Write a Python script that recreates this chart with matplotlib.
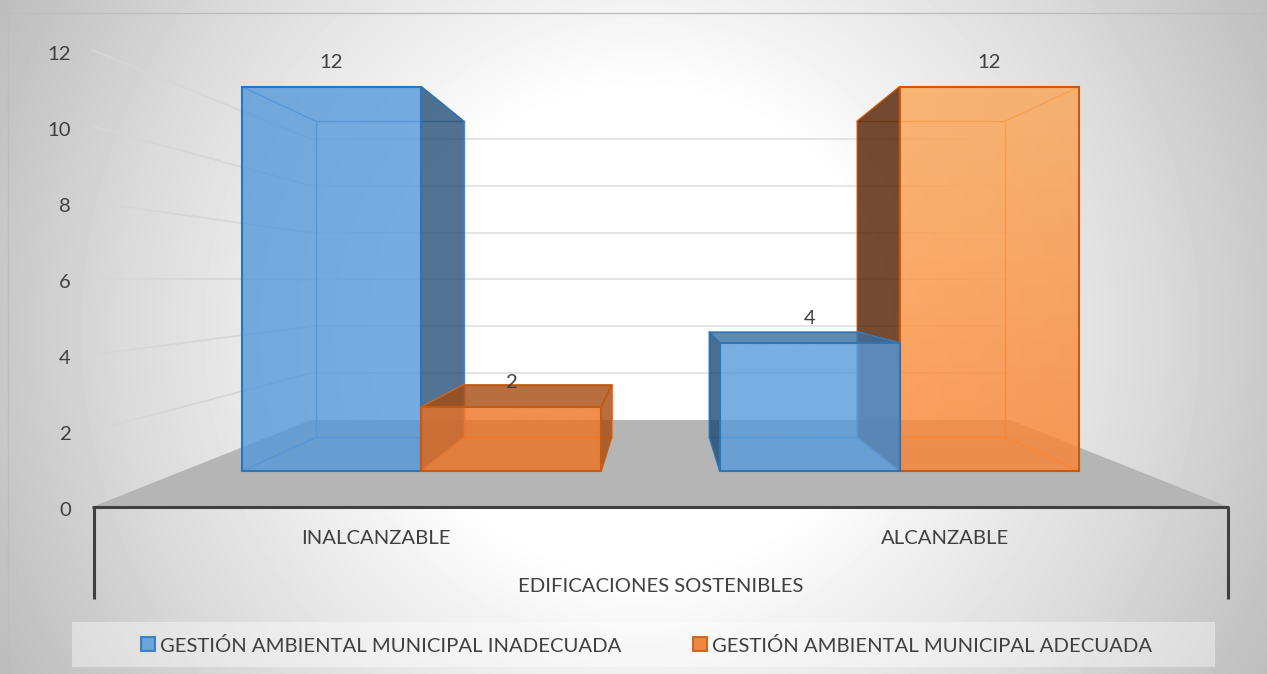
# Grafico de barras 3D (perspectiva) dibujado a mano sobre ejes 2D en pixeles
import numpy as np
import matplotlib
matplotlib.use("Agg")
import matplotlib.pyplot as plt
from matplotlib.patches import Polygon, Rectangle

plt.rcParams['font.family'] = ['Lato', 'DejaVu Sans']

# datos
categories = ["INALCANZABLE", "ALCANZABLE"]
inadecuada = [12, 4]
adecuada = [2, 12]
series_names = ["GESTIÓN AMBIENTAL MUNICIPAL INADECUADA", "GESTIÓN AMBIENTAL MUNICIPAL ADECUADA"]
y_ticks = [0, 2, 4, 6, 8, 10, 12]
axis_title = "EDIFICACIONES SOSTENIBLES"

TEXT = '#404040'
FS = 14.6
W, H = 1267, 674

# geometria de la proyeccion (plano frontal en pixeles)
X0, X1 = 92.0, 1229.0      # eje de categorias
Y0, Y12 = 507.0, 50.0      # valor 0 y valor 12 en el plano frontal
VX, VY = 660.5, 281.0      # punto de fuga
K = 0.626                  # profundidad: escala = 1 / (1 + K z)
Z_FRONT, Z_BACK = 0.302, 0.711   # cara frontal y trasera de las barras
GAP = 0.124                # hueco a cada lado, en unidades de categoria
BAR_W = (1 - 2 * GAP) / 2


def project(u, v, z):
    # u: posicion en categorias, v: valor, z: profundidad (0 frente, 1 pared)
    s = 1 / (1 + K * z)
    x = X0 + u * (X1 - X0) / len(categories)
    y = Y0 + v * (Y12 - Y0) / max(y_ticks)
    return VX + (x - VX) * s, VY + (y - VY) * s


fig = plt.figure(figsize=(W / 100, H / 100), dpi=100)
ax = fig.add_axes([0, 0, 1, 1])
ax.set_axis_off()

# fondo con degradado radial
yy, xx = np.mgrid[0:H, 0:W]
dist = np.hypot(xx - 640, yy - 330)
grey = np.interp(dist, [0, 240, 320, 420, 520, 640, 720], [255, 255, 243, 230, 218, 200, 189]) / 255
ax.imshow(grey, cmap='gray', vmin=0, vmax=1, extent=(0, W, H, 0), aspect='auto', zorder=0,
          clip_path=Rectangle((8, 13), W, H, transform=ax.transData))
ax.plot([8, 8, W], [H, 13, 13], color='#bdbdbd', lw=1, zorder=1)

# suelo
floor = [project(0, 0, 0), project(2, 0, 0), project(2, 0, 1), project(0, 0, 1)]
ax.add_patch(Polygon(floor, closed=True, fc='#b5b5b5', ec='none', zorder=1))

# lineas de division: pared izquierda y pared del fondo
for v in y_ticks[1:]:
    xa, ya = project(0, v, 0)
    xb, yb = project(0, v, 1)
    xc, yc = project(2, v, 1)
    ax.plot([xa, xb], [ya, yb], color='#d6d6d6', lw=1.3, zorder=1)
    ax.plot([xb, xc], [yb, yc], color='#e2e2e2', lw=1.3, zorder=1)

# estilos de cada serie
styles = [
    dict(top='#5598d9', bottom='#5598d9', low='#569adb', edge='#2e75b6', inner='#5596d6', roof='#366ea0'),
    dict(top='#fca655', bottom='#fa8333', low='#ee7222', edge='#c55a11', inner='#f98f42', roof='#a74a0f'),
]
side_colors = {(0, 0): '#264f78', (0, 1): '#1d4a72', (1, 0): '#a74a0f', (1, 1): '#511f00'}


def rgb(c):
    return np.array(matplotlib.colors.to_rgb(c))


def draw_bar(cat, ser, value):
    st = styles[ser]
    u0 = cat + GAP + ser * BAR_W
    u1 = u0 + BAR_W
    zo = 3 + cat * 0.1

    def face(pts):
        return [project(*p) for p in pts]

    # aristas interiores
    for a, b in [((u0, 0, Z_BACK), (u1, 0, Z_BACK)), ((u0, value, Z_BACK), (u1, value, Z_BACK)),
                 ((u0, 0, Z_BACK), (u0, value, Z_BACK)), ((u1, 0, Z_BACK), (u1, value, Z_BACK)),
                 ((u0, 0, Z_FRONT), (u0, 0, Z_BACK)), ((u1, 0, Z_FRONT), (u1, 0, Z_BACK)),
                 ((u0, value, Z_FRONT), (u0, value, Z_BACK)), ((u1, value, Z_FRONT), (u1, value, Z_BACK))]:
        pa, pb = project(*a), project(*b)
        ax.plot([pa[0], pb[0]], [pa[1], pb[1]], color=st['inner'], lw=1, zorder=zo)

    # lado visible desde fuera (mira hacia el centro del grafico)
    us = u1 if cat == 0 else u0
    side = face([(us, 0, Z_FRONT), (us, value, Z_FRONT), (us, value, Z_BACK), (us, 0, Z_BACK)])
    ax.add_patch(Polygon(side, closed=True, fc=side_colors[(ser, cat)], ec=st['edge'], lw=1,
                         alpha=0.8, zorder=zo))

    # techo visto desde arriba si esta por debajo del ojo
    if project(0, value, 0)[1] > VY:
        roof = face([(u0, value, Z_FRONT), (u1, value, Z_FRONT), (u1, value, Z_BACK), (u0, value, Z_BACK)])
        ax.add_patch(Polygon(roof, closed=True, fc=st['roof'], ec=st['edge'], lw=1, alpha=0.8, zorder=zo))

    # cara frontal con degradado vertical
    xl, yb = project(u0, 0, Z_FRONT)
    xr, yt = project(u1, value, Z_FRONT)
    if value > y_ticks[3]:
        c_top, c_bot = rgb(st['top']), rgb(st['bottom'])
    else:
        c_top, c_bot = rgb(st['low']), rgb(st['low'])
    ramp = np.linspace(0, 1, 64)[:, None, None]
    colors = c_top + (c_bot - c_top) * ramp
    rgba = np.concatenate([colors, np.full((64, 1, 1), 0.8)], axis=2)
    ax.imshow(rgba, extent=(xl, xr, yb, yt), aspect='auto', zorder=zo + 0.01)
    ax.add_patch(Rectangle((xl, yt), xr - xl, yb - yt, fc='none', ec=st['edge'], lw=1.5, zorder=zo + 0.02))

    # etiqueta de datos
    ax.text((xl + xr) / 2, yt - 24.5, str(value), ha='center', va='center', fontsize=FS, color=TEXT, zorder=6)


# primero la barra mas alejada del centro
draw_bar(0, 0, inadecuada[0])
draw_bar(0, 1, adecuada[0])
draw_bar(1, 1, adecuada[1])
draw_bar(1, 0, inadecuada[1])

# ejes
ax.plot([X0, X1], [Y0, Y0], color='#404040', lw=2.2, zorder=5, solid_capstyle='butt')
ax.plot([94, 94], [Y0, 599], color='#404040', lw=2.2, zorder=5, solid_capstyle='butt')
ax.plot([1228, 1228], [Y0, 599], color='#404040', lw=2.2, zorder=5, solid_capstyle='butt')

for v in y_ticks:
    ax.text(71, project(0, v, 0)[1] + 4, str(v), ha='right', va='center', fontsize=FS, color=TEXT)
for i, c in enumerate(categories):
    ax.text(project(i + 0.5, 0, 0)[0], 539, c, ha='center', va='center', fontsize=FS, color=TEXT)
ax.text(VX, 586, axis_title, ha='center', va='center', fontsize=FS, color=TEXT)

# leyenda
ax.add_patch(Rectangle((72, 622), 1143, 45, fc='white', ec='none', alpha=0.4, zorder=2))
legend_x = [(140, 160), (692, 712)]
for (sx, tx), name, st in zip(legend_x, series_names, styles):
    ax.add_patch(Rectangle((sx + 1, 637), 14, 14, fc=st['low'], alpha=0.85, ec=st['edge'], lw=1.5, zorder=3))
    ax.text(tx, 645.5, name, ha='left', va='center', fontsize=FS, color=TEXT)

ax.set_xlim(0, W)
ax.set_ylim(H, 0)
fig.savefig('out.png', dpi=100)
